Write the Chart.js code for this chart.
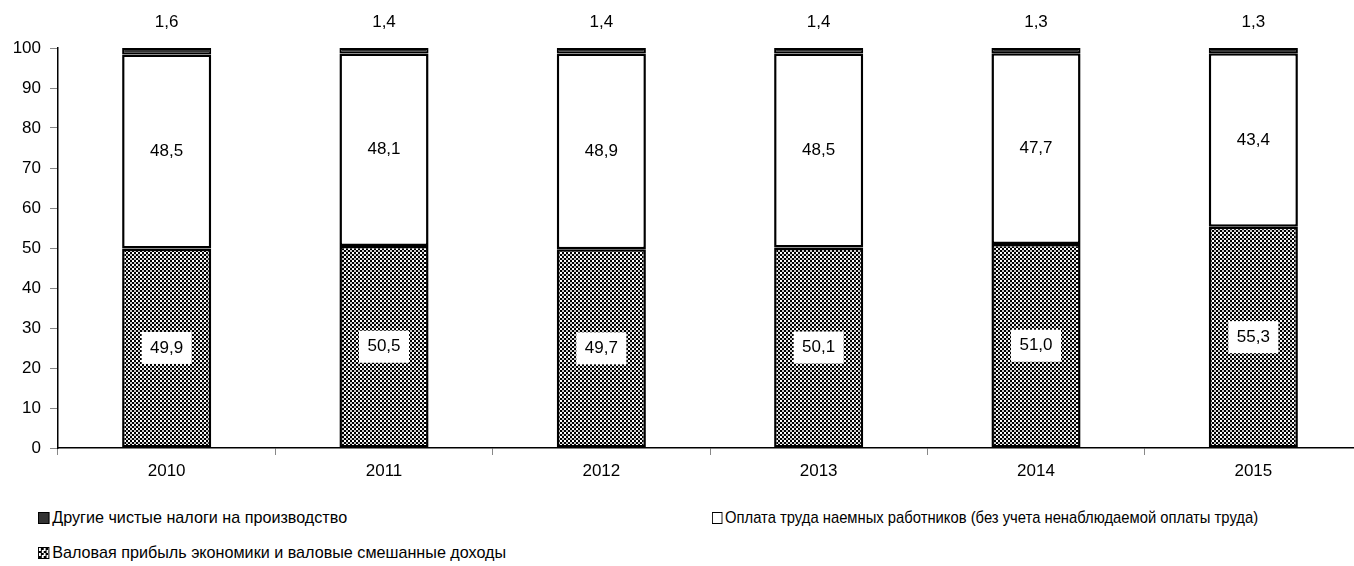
<!DOCTYPE html>
<html>
<head>
<meta charset="utf-8">
<script src="https://cdn.jsdelivr.net/npm/chart.js@4"></script>
<style>
  html, body { margin: 0; padding: 0; background: #fff; overflow: hidden; width: 1354px; height: 566px; }
  #wrap { position: absolute; left: 0; top: 0; width: 1362px; height: 490px; }
  .legend { position: absolute; font-family: "Liberation Sans", Arial, sans-serif; font-size: 17px; color: #000; display: flex; align-items: center; white-space: nowrap; transform-origin: 0 50%; }
  .legend .box { width: 10px; height: 10px; border: 1px solid #000; margin-right: 3px; flex: none; }
</style>
</head>
<body>
<div id="wrap"><canvas id="chart"></canvas></div>
<div id="legend"></div>
<script>
const years = ['2010', '2011', '2012', '2013', '2014', '2015'];
const profit = [49.9, 50.5, 49.7, 50.1, 51.0, 55.3];
const wages = [48.5, 48.1, 48.9, 48.5, 47.7, 43.4];
const taxes = [1.6, 1.4, 1.4, 1.4, 1.3, 1.3];
const yTicks = [0, 10, 20, 30, 40, 50, 60, 70, 80, 90, 100];

const FONT = '"Liberation Sans", Arial, sans-serif';

// checker pattern for the bottom segment
const tile = document.createElement('canvas');
tile.width = 4; tile.height = 4;
const tc = tile.getContext('2d');
tc.fillStyle = '#000'; tc.fillRect(0, 0, 4, 4);
tc.fillStyle = '#fff'; tc.fillRect(0, 0, 2, 2);
tc.fillStyle = '#c8c8c8'; tc.fillRect(2, 2, 2, 2);
const checker = tc.createPattern(tile, 'repeat');

const fmt = v => v.toFixed(1).replace('.', ',');

const labelPlugin = {
    id: 'segLabels',
    afterDatasetsDraw(chart) {
        const c = chart.ctx;
        c.save();
        c.font = '17px ' + FONT;
        c.textAlign = 'center';
        c.textBaseline = 'middle';
        c.fillStyle = '#000';
        chart.data.datasets.forEach((ds, i) => {
            const meta = chart.getDatasetMeta(i);
            meta.data.forEach((bar, j) => {
                const txt = fmt(ds.data[j]);
                const mid = (bar.y + bar.base) / 2;
                if (i === 0) {
                    c.fillStyle = '#fff';
                    c.fillRect(bar.x - 25, mid - 16, 50, 32);
                    c.fillStyle = '#000';
                    c.fillText(txt, bar.x, mid);
                } else if (i === 1) {
                    c.fillText(txt, bar.x, mid);
                } else {
                    c.fillText(txt, bar.x, chart.chartArea.top - 26);
                }
            });
        });
        c.restore();
    }
};

const ctx = document.getElementById('chart').getContext('2d');
const chart = new Chart(ctx, {
    type: 'bar',
    data: {
        labels: years,
        datasets: [{
            label: 'Валовая прибыль экономики и валовые смешанные доходы',
            data: profit,
            backgroundColor: checker,
            borderColor: '#000',
            borderWidth: 2.5,
            borderSkipped: false
        }, {
            label: 'Оплата труда наемных работников (без учета ненаблюдаемой оплаты труда)',
            data: wages,
            backgroundColor: '#fff',
            borderColor: '#000',
            borderWidth: 2.5,
            borderSkipped: false
        }, {
            label: 'Другие чистые налоги на производство',
            data: taxes,
            backgroundColor: '#333',
            borderColor: '#000',
            borderWidth: 2,
            borderSkipped: false
        }]
    },
    options: {
        responsive: true,
        maintainAspectRatio: false,
        animation: false,
        barPercentage: 0.82,
        categoryPercentage: 0.5,
        layout: { padding: { top: 48, left: 0, right: 0, bottom: 0 } },
        plugins: {
            legend: { display: false },
            tooltip: { enabled: false }
        },
        scales: {
            x: {
                stacked: true,
                afterFit: s => { s.height = 42; },
                grid: { display: true, drawOnChartArea: false, drawTicks: true, tickLength: 7, color: '#888', offset: true },
                border: { color: '#000', width: 1.5 },
                ticks: { color: '#000', font: { family: FONT, size: 17 }, padding: 6 }
            },
            y: {
                stacked: true,
                min: 0,
                max: 100,
                afterFit: s => { s.width = 58; },
                afterBuildTicks: s => { s.ticks = yTicks.map(v => ({ value: v })); },
                grid: { display: true, drawOnChartArea: false, drawTicks: true, tickLength: 8, color: '#888' },
                border: { color: '#000', width: 1.5 },
                ticks: { color: '#000', font: { family: FONT, size: 17 }, padding: 9 }
            }
        }
    },
    plugins: [labelPlugin]
});

// legend, laid out like the original: two columns, three items
const legendPos = [
    { ds: 2, left: 38, top: 508, sx: 0.95 },
    { ds: 1, left: 712, top: 508, sx: 0.87 },
    { ds: 0, left: 38, top: 543, sx: 0.95 }
];
const legendEl = document.getElementById('legend');
legendPos.forEach(p => {
    const ds = chart.data.datasets[p.ds];
    const item = document.createElement('div');
    item.className = 'legend';
    item.style.left = p.left + 'px';
    item.style.top = p.top + 'px';
    item.style.transform = 'scaleX(' + p.sx + ')';
    const box = document.createElement('span');
    box.className = 'box';
    if (p.ds === 0) {
        box.style.background = 'repeating-conic-gradient(#000 0 25%, #fff 0 50%) 0 0 / 5px 5px';
    } else {
        box.style.background = ds.backgroundColor;
    }
    item.appendChild(box);
    item.appendChild(document.createTextNode(ds.label));
    legendEl.appendChild(item);
});
</script>
</body>
</html>
